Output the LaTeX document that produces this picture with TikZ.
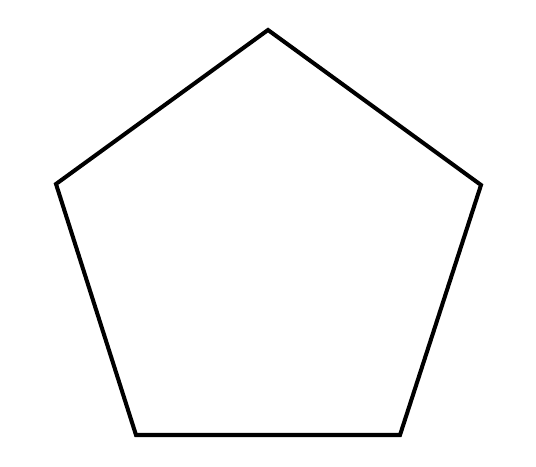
\documentclass[tikz,border=0pt]{standalone}
\usepackage{tikz}
\tikzset{
  edge/.style={draw=black, line width=2.3pt, line join=miter}
}
\begin{document}
\begin{tikzpicture}[x=0.02cm,y=0.02cm]
  \useasboundingbox (0,0) rectangle (536,466);
  \coordinate (top) at (268,436);
  \coordinate (right) at (481,281);
  \coordinate (bright) at (400,31);
  \coordinate (bleft) at (136,31);
  \coordinate (left) at (56,282);
  \draw[edge] (top)--(right)--(bright)--(bleft)--(left)--cycle;
\end{tikzpicture}
\end{document}
